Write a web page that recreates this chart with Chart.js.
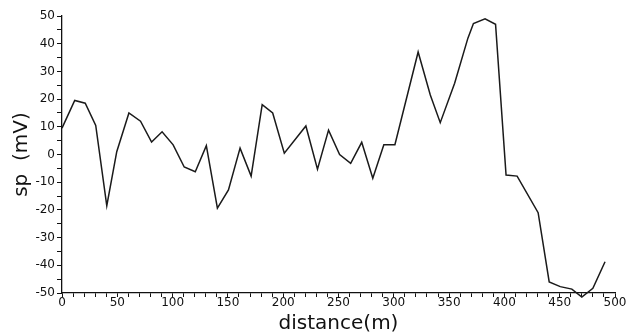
<!DOCTYPE html>
<html>
<head>
<meta charset="utf-8">
<script src="https://cdn.jsdelivr.net/npm/chart.js@4/dist/chart.umd.min.js"></script>
<style>
  html, body { margin: 0; padding: 0; background: #fff; }
  #wrap { width: 629px; height: 336px; }
</style>
</head>
<body>
<div id="wrap"><canvas id="spChart"></canvas></div>
<script>
// SP profile
const distance = [0, 11.5, 21, 30.5, 40.5, 49.5, 60.5, 71, 81, 90.5, 100.5, 110.5, 120.5, 130.5, 140.5, 150.5,
  161, 171, 181, 190.5, 201, 220.5, 231, 241, 251, 261, 271, 281, 291, 301, 322, 333, 342, 355, 367, 372,
  382.5, 392, 401.5, 411.5, 430.5, 440.5, 450.5, 461, 470, 480, 491];
const sp = [9.5, 19.5, 18.5, 10.5, -18.5, 1, 15, 12, 4.5, 8.2, 3.5, -4.5, -6.2, 3.2, -19.4, -12.8,
  2.3, -7.8, 18, 15, 0.5, 10.3, -5.3, 8.8, 0, -3.2, 4.4, -8.6, 3.5, 3.5, 37, 21.5, 11.5, 25.7, 42, 47.3,
  49, 47, -7.4, -7.8, -21, -46, -47.7, -48.6, -51.5, -48.3, -38.7];

const xLabelStep = 50;
const yLabelStep = 10;
const xTitle = 'distance(m)';
const yTitle = 'sp  (mV)';

const ink = '#111';
const tickFont = { family: 'DejaVu Sans', size: 12 };

const points = distance.map((d, i) => ({ x: d, y: sp[i] }));

new Chart(document.getElementById('spChart'), {
  type: 'line',
  data: {
    datasets: [{
      data: points,
      borderColor: '#1a1a1a',
      borderWidth: 1.5,
      pointRadius: 0,
      tension: 0,
      fill: false,
      clip: false
    }]
  },
  options: {
    responsive: true,
    maintainAspectRatio: false,
    animation: false,
    devicePixelRatio: 1,
    layout: { padding: { top: 16, right: 14, left: 0, bottom: 0 } },
    plugins: { legend: { display: false }, tooltip: { enabled: false } },
    scales: {
      x: {
        type: 'linear',
        min: 0,
        max: 500,
        afterFit: s => { s.height = 43; },
        border: { display: true, color: ink, width: 1.3 },
        grid: { drawOnChartArea: false, color: ink, tickLength: 4, tickWidth: 1 },
        ticks: {
          stepSize: 10,
          autoSkip: false,
          maxRotation: 0,
          padding: -1,
          color: ink,
          font: tickFont,
          callback: v => (v % xLabelStep === 0 ? String(v) : '')
        },
        title: {
          display: true,
          text: xTitle,
          color: ink,
          font: { family: 'DejaVu Sans', size: 20 },
          padding: { top: 0, bottom: 0 }
        }
      },
      y: {
        min: -50,
        max: 50,
        afterFit: s => { s.width = 62; },
        border: { display: true, color: ink, width: 1.3 },
        grid: { drawOnChartArea: false, color: ink, tickLength: 5, tickWidth: 1 },
        ticks: {
          stepSize: 5,
          autoSkip: false,
          padding: 2,
          color: ink,
          font: tickFont,
          callback: v => (v % yLabelStep === 0 ? String(v) : '')
        },
        title: {
          display: true,
          text: yTitle,
          color: ink,
          font: { family: 'DejaVu Sans', size: 20 },
          padding: { top: 10, bottom: 0 }
        }
      }
    }
  }
});
</script>
</body>
</html>
